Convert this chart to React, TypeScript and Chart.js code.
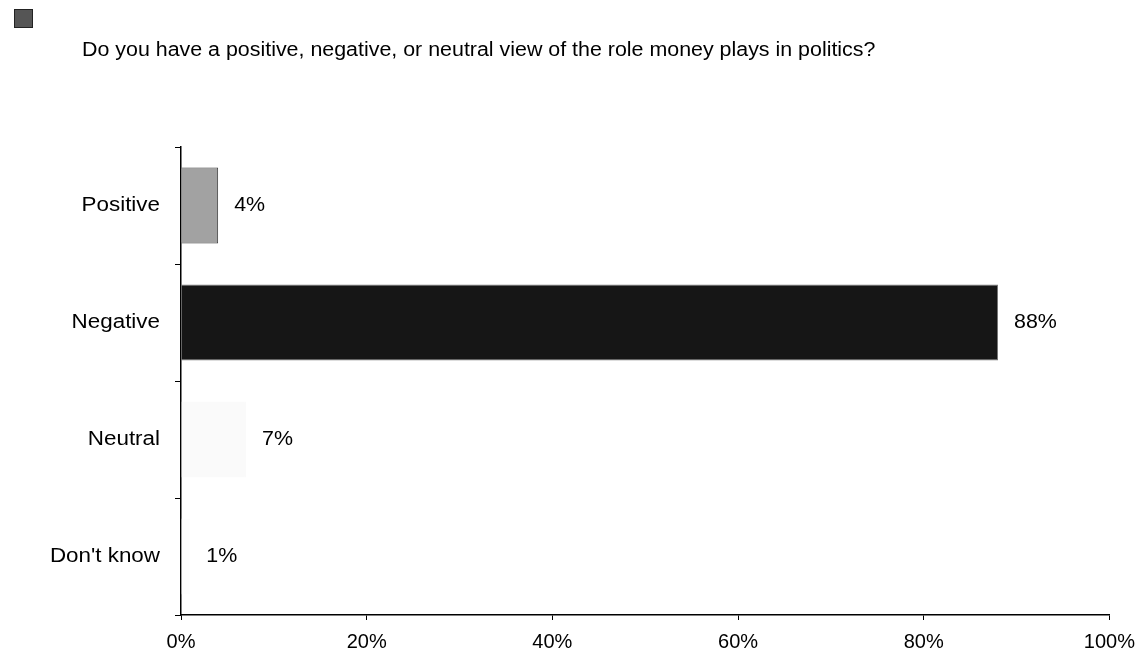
import React, { useEffect, useRef } from "react";
import { Chart, registerables } from "chart.js";

Chart.register(...registerables);

const categories = ["Positive", "Negative", "Neutral", "Don't know"];
const values = [4, 88, 7, 1];
const xTicks = [0, 20, 40, 60, 80, 100];
const title = "Do you have a positive, negative, or neutral view of the role money plays in politics?";

const barColors = ["#a2a2a2", "#161616", "#fafafa", "#fdfdfd"];
const barBorders = ["#3a3a3a", "#777777", "#fafafa", "#fdfdfd"];

const FONT = "'Liberation Sans', Arial, sans-serif";

const textPlugin = {
  id: "textPlugin",
  afterDraw(chart: any) {
    const ctx = chart.ctx;
    const meta = chart.getDatasetMeta(0);
    const yScale = chart.scales.y;
    ctx.save();
    ctx.fillStyle = "#000";
    ctx.font = `20px ${FONT}`;
    ctx.textBaseline = "middle";
    // value labels
    meta.data.forEach((bar: any, i: number) => {
      ctx.save();
      ctx.translate(bar.x + 16, bar.y);
      ctx.scale(1.07, 1);
      ctx.textAlign = "left";
      ctx.fillText(values[i] + "%", 0, 0);
      ctx.restore();
    });
    // category labels
    categories.forEach((c, i) => {
      const y = yScale.getPixelForTick(i);
      ctx.save();
      ctx.translate(160, y);
      ctx.scale(1.12, 1);
      ctx.textAlign = "right";
      ctx.fillText(c, 0, 0);
      ctx.restore();
    });
    ctx.restore();
  },
};

export default function App() {
  const ref = useRef<HTMLCanvasElement | null>(null);
  useEffect(() => {
    document.body.style.margin = "0";
    const chart = new Chart(ref.current!, {
      type: "bar",
      data: {
        labels: categories,
        datasets: [
          {
            data: values,
            backgroundColor: barColors,
            borderColor: barBorders,
            borderWidth: 1,
            categoryPercentage: 0.65,
            barPercentage: 1,
          },
        ],
      },
      options: {
        indexAxis: "y",
        animation: false,
        responsive: false,
        maintainAspectRatio: false,
        layout: { padding: { top: 147, right: 35, left: 0, bottom: 0 } },
        plugins: {
          legend: { display: false },
          tooltip: { enabled: false },
          title: { display: false },
        },
        scales: {
          x: {
            min: 0,
            max: 100,
            afterBuildTicks: (scale: any) => {
              scale.ticks = xTicks.map((v) => ({ value: v }));
            },
            afterFit: (scale: any) => {
              scale.height = 38;
            },
            ticks: {
              color: "#000",
              font: { family: FONT, size: 20 },
              padding: 10,
              maxRotation: 0,
              callback: (v: any) => v + "%",
            },
            grid: {
              drawOnChartArea: false,
              drawTicks: true,
              tickLength: 5,
              color: "#000",
            },
            border: { display: true, color: "#000", width: 1.5 },
          },
          y: {
            afterFit: (scale: any) => {
              scale.width = 181;
            },
            ticks: {
              display: false,
            },
            grid: {
              drawOnChartArea: false,
              drawTicks: true,
              tickLength: 6,
              color: "#000",
            },
            border: { display: true, color: "#000", width: 1.5 },
          },
        },
      },
      plugins: [textPlugin],
    });
    return () => chart.destroy();
  }, []);

  return (
    <div style={{ position: "relative", width: 1145, height: 653, background: "#fff" }}>
      <div
        style={{
          position: "absolute",
          left: 14,
          top: 9,
          width: 17,
          height: 17,
          background: "#555",
          border: "1px solid #222",
        }}
      />
      <div
        style={{
          position: "absolute",
          left: 82,
          top: 37,
          fontFamily: FONT,
          fontSize: 20,
          lineHeight: "24px",
          color: "#000",
          whiteSpace: "nowrap",
          transform: "scaleX(1.07)",
          transformOrigin: "left center",
        }}
      >
        {title}
      </div>
      <canvas ref={ref} width={1145} height={653} style={{ display: "block" }} />
    </div>
  );
}
